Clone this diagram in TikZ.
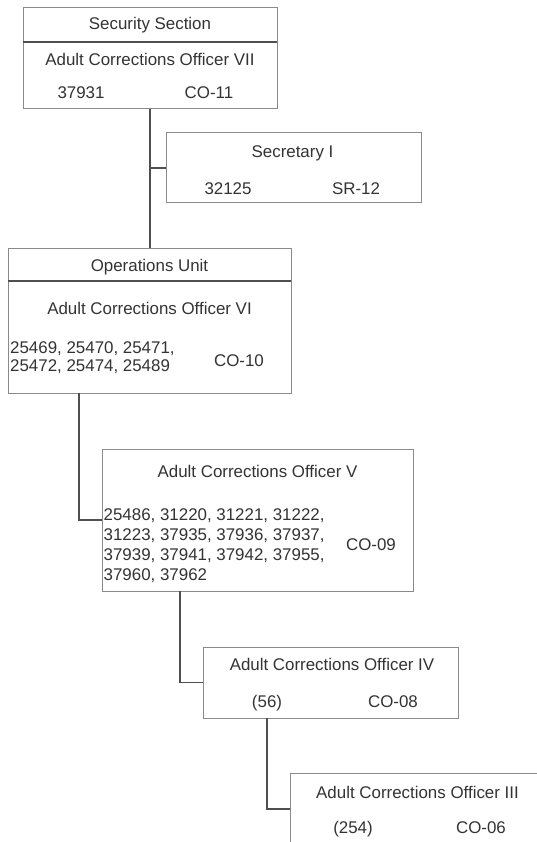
\documentclass[tikz,border=0pt]{standalone}
\usepackage{fontspec}
\setmainfont{Liberation Sans}
\definecolor{boxgray}{HTML}{8A8A8A}
\definecolor{conngray}{HTML}{4F4F4F}
\definecolor{txtgray}{HTML}{333333}
\begin{document}
\begin{tikzpicture}[x=1pt,y=-1pt,
  box/.style={draw=boxgray, line width=1pt, anchor=north west, inner sep=0pt, outer sep=0pt},
  conn/.style={draw=conngray, line width=1.5pt},
  divider/.style={draw=conngray, line width=1.5pt},
  lbl/.style={text=txtgray, font=\fontsize{16.9}{18}\selectfont, inner sep=0pt, anchor=base}]
\useasboundingbox (0,0) rectangle (537,842);
\clip (0,0) rectangle (537,842);
% boxes
\node[box, minimum width=254pt, minimum height=101pt] (b1) at (23,8) {};
\node[box, minimum width=255pt, minimum height=70pt] (b2) at (166,133) {};
\node[box, minimum width=283pt, minimum height=145pt] (b3) at (8,248) {};
\node[box, minimum width=311pt, minimum height=142pt] (b4) at (102,449) {};
\node[box, minimum width=255pt, minimum height=71pt] (b5) at (203,647) {};
\node[box, minimum width=255pt, minimum height=72pt] (b6) at (290,773) {};
% dividers
\draw[divider] (b1.west |- 0,42) -- (b1.east |- 0,42);
\draw[divider] (b3.west |- 0,281) -- (b3.east |- 0,281);
% connectors
\draw[conn] (b1.south) -- (b1.south |- b3.north);
\draw[conn] (b1.south |- b2.west) -- (b2.west);
\draw[conn] ([xshift=71pt]b3.south west) |- (b4.west);
\draw[conn] ([xshift=78pt]b4.south west) |- (b5.west);
\draw[conn] ([xshift=64pt]b5.south west) |- (b6.west);
% labels
\node[lbl] (t1) at (150,30) {Security Section};
\node[lbl] (t2) at (150,65.5) {Adult Corrections Officer VII};
\node[lbl] (t3) at (81,99) {37931};
\node[lbl] (t4) at (209,99) {CO-11};
\node[lbl] (t5) at (292.5,157.5) {Secretary I};
\node[lbl] (t6) at (228,195) {32125};
\node[lbl] (t7) at (356,195) {SR-12};
\node[lbl] (t8) at (149.5,271.5) {Operations Unit};
\node[lbl] (t9) at (149.5,314) {Adult Corrections Officer VI};
\node[lbl, anchor=north west, align=left] (t10) at (10,341) {25469, 25470, 25471,\\25472, 25474, 25489};
\node[lbl] (t11) at (239,366.5) {CO-10};
\node[lbl] (t12) at (257.5,477.5) {Adult Corrections Officer V};
\node[lbl, anchor=north west, align=left, font=\fontsize{16.9}{20.3}\selectfont] (t13) at (103.5,508) {25486, 31220, 31221, 31222,\\31223, 37935, 37936, 37937,\\37939, 37941, 37942, 37955,\\37960, 37962};
\node[lbl] (t14) at (371,550) {CO-09};
\node[lbl] (t15) at (332,670.5) {Adult Corrections Officer IV};
\node[lbl] (t16) at (267,707.5) {(56)};
\node[lbl] (t17) at (393,707.5) {CO-08};
\node[lbl] (t18) at (417.5,798) {Adult Corrections Officer III};
\node[lbl] (t19) at (353,833.5) {(254)};
\node[lbl] (t20) at (481,833.5) {CO-06};
\end{tikzpicture}
\end{document}
